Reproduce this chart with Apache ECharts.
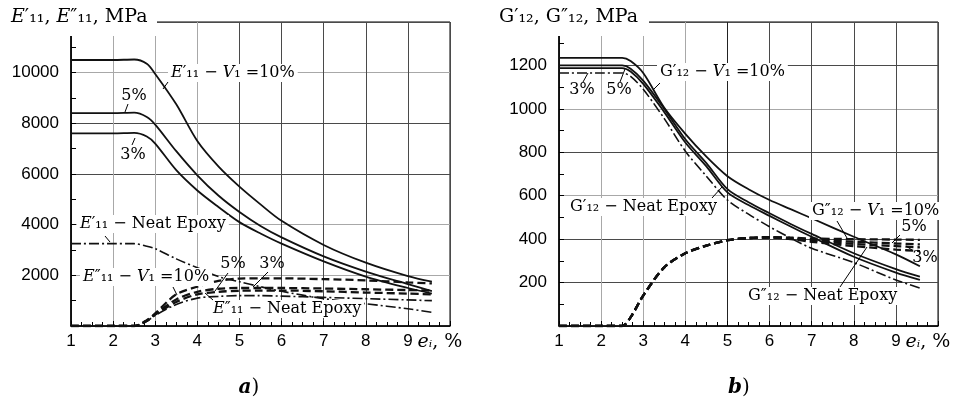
<!DOCTYPE html>
<html>
<head>
<meta charset="utf-8">
<script src="https://cdn.jsdelivr.net/npm/echarts@6.0.0/dist/echarts.min.js"></script>
<style>
  html, body { margin: 0; background: #fff; }
  #chart { width: 959px; height: 400px; }
</style>
</head>
<body>
<div id="chart"></div>
<script>
// --- data (strain e_i in %, moduli in MPa) ---
const strainA = [1, 2, 2.5, 2.8, 3, 3.5, 4, 4.5, 5, 5.5, 6, 7, 8, 9, 9.57];
const eStore10 = [10500, 10500, 10520, 10350, 9950, 8750, 7300, 6300, 5500, 4800, 4150, 3200, 2500, 1970, 1750];
const eStore5  = [8400, 8400, 8420, 8250, 7950, 6900, 5950, 5150, 4500, 3950, 3500, 2750, 2150, 1650, 1380];
const eStore3  = [7600, 7600, 7620, 7480, 7200, 6150, 5350, 4700, 4100, 3650, 3250, 2550, 1950, 1500, 1280];
const eStoreNeat = [3250, 3250, 3250, 3150, 3050, 2650, 2300, 1950, 1750, 1550, 1370, 1080, 880, 680, 540];
const eLoss10  = [0, 0, 0, 230, 500, 1250, 1550, 1780, 1870, 1880, 1880, 1850, 1800, 1720, 1680];
const eLoss5   = [0, 0, 0, 210, 470, 1050, 1350, 1470, 1500, 1500, 1500, 1480, 1450, 1420, 1400];
const eLoss3   = [0, 0, 0, 200, 450, 950, 1250, 1350, 1390, 1400, 1400, 1370, 1320, 1280, 1250];
const eLossNeat = [0, 0, 0, 190, 420, 850, 1100, 1170, 1200, 1200, 1180, 1130, 1080, 1030, 1000];

const strainB = [1, 2, 2.5, 2.7, 3, 3.5, 4, 4.5, 5, 5.5, 6, 6.5, 7, 8, 9, 9.57];
const gStore10 = [1235, 1235, 1235, 1220, 1165, 1005, 885, 780, 690, 630, 580, 538, 496, 411, 330, 275];
const gStore5  = [1200, 1200, 1200, 1185, 1130, 1000, 860, 750, 630, 570, 519, 470, 424, 335, 262, 227];
const gStore3  = [1188, 1188, 1188, 1172, 1115, 985, 845, 735, 615, 557, 507, 458, 411, 319, 246, 212];
const gStoreNeat = [1165, 1165, 1165, 1150, 1090, 955, 805, 690, 580, 515, 457, 405, 358, 292, 212, 175];
const gLoss10  = [0, 0, 0, 40, 140, 270, 335, 370, 395, 405, 408, 407, 403, 400, 398, 397];
const gLoss5   = [0, 0, 0, 40, 140, 270, 335, 370, 395, 405, 408, 405, 398, 388, 380, 376];
const gLoss3   = [0, 0, 0, 40, 140, 270, 335, 370, 395, 405, 408, 403, 394, 378, 368, 362];
const gLossNeat = [0, 0, 0, 40, 140, 270, 335, 370, 395, 405, 408, 400, 388, 368, 352, 345];

const SERIF = '"DejaVu Serif", serif';
const SANS = '"Liberation Sans", Arial, sans-serif';
const LIGHT = '#a8a8a8', DARK = '#4a4a4a';

const SOLID = { type: 'solid', width: 1.8 };
const DASH = { type: [8, 4], width: 2.3 };
const DASHDOT = { type: [10, 3, 2, 3], width: 1.6 };

function curve(name, xs, ys, idx, ls) {
  return {
    name, type: 'line', xAxisIndex: idx, yAxisIndex: idx,
    data: xs.map((x, i) => [x, ys[i]]),
    smooth: 0.3, symbol: 'none', silent: true,
    lineStyle: Object.assign({ color: '#111' }, ls), z: 3,
  };
}

function xAxis(idx, splitColors) {
  return {
    type: 'value', gridIndex: idx, min: 1, max: 10, interval: 1,
    axisLine: { lineStyle: { color: '#000', width: 1.6 } },
    axisTick: { inside: true, length: 5, lineStyle: { color: '#000' } },
    minorTick: { show: true, splitNumber: 4, length: 4, lineStyle: { color: '#000' } },
    splitLine: { show: true, lineStyle: { color: splitColors, width: 1 } },
    axisLabel: {
      color: '#000', fontFamily: SANS, fontSize: 17, margin: 7,
      formatter: (v) => (v === 10 ? '{e|e}{s|ᵢ}{n|, %}' : String(v)),
      rich: {
        e: { fontFamily: SERIF, fontStyle: 'italic', fontSize: 19, color: '#000' },
        s: { fontFamily: SERIF, fontStyle: 'italic', fontSize: 17, color: '#000' },
        n: { fontFamily: SERIF, fontSize: 19, color: '#000', padding: [0, 20, 0, 0] },
      },
    },
  };
}

function yAxis(idx, max, step, splitColors) {
  return {
    type: 'value', gridIndex: idx, min: 0, max, interval: step,
    axisLine: { show: true, lineStyle: { color: '#000', width: 1.6 } },
    axisTick: { show: true, inside: true, length: 5, lineStyle: { color: '#000' } },
    minorTick: { show: true, splitNumber: 2, length: 5, lineStyle: { color: '#000' } },
    splitLine: { show: true, lineStyle: { color: splitColors, width: 1 } },
    axisLabel: {
      color: '#000', fontFamily: SANS, fontSize: 17, margin: 12,
      showMinLabel: false, showMaxLabel: false, formatter: (v) => String(v),
    },
  };
}

const rich = {
  i: { fontFamily: SERIF, fontStyle: 'italic', fontSize: 16, fill: '#000' },
  t: { fontFamily: SERIF, fontStyle: 'italic', fontSize: 19, fill: '#000' },
  b: { fontFamily: SERIF, fontStyle: 'italic', fontWeight: 'bold', fontSize: 20, fill: '#000' },
};

function note(text, x, y, align, bg) {
  return {
    type: 'text', x, y, z: 100, silent: true,
    style: {
      text, rich, fill: '#000', font: '16px ' + SERIF,
      align, textAlign: align, verticalAlign: 'middle', textVerticalAlign: 'middle',
      backgroundColor: bg ? '#fff' : null, padding: bg ? [1, 3] : 0,
    },
  };
}
function lead(x1, y1, x2, y2) {
  return { type: 'line', z: 100, silent: true, shape: { x1, y1, x2, y2 }, style: { stroke: '#000', lineWidth: 1 } };
}

const graphic = [
  // panel titles cover the frame corner
  { type: 'rect', z: 90, silent: true, shape: { x: 0, y: 0, width: 157, height: 36 }, style: { fill: '#fff' } },
  { type: 'rect', z: 90, silent: true, shape: { x: 486, y: 0, width: 163, height: 36 }, style: { fill: '#fff' } },
  { type: 'text', z: 100, x: 11, y: 17, style: { text: '{t|E}′₁₁, {t|E}″₁₁, MPa', rich, font: '19px ' + SERIF, fill: '#000', verticalAlign: 'middle', textVerticalAlign: 'middle' } },
  { type: 'text', z: 100, x: 499, y: 17, style: { text: 'G′₁₂, G″₁₂, MPa', rich, font: '19px ' + SERIF, fill: '#000', verticalAlign: 'middle', textVerticalAlign: 'middle' } },
  // panel a
  note('{i|E}′₁₁ − {i|V}₁ =10%', 168, 73, 'left', true),
  note('5%', 134, 96, 'center', false),
  note('3%', 133, 155, 'center', false),
  note('{i|E}′₁₁ − Neat Epoxy', 77, 224, 'left', true),
  note('{i|E}″₁₁ − {i|V}₁ =10%', 80, 277, 'left', true),
  note('5%', 233, 264, 'center', false),
  note('3%', 272, 264, 'center', false),
  note('{i|E}″₁₁ − Neat Epoxy', 210, 309, 'left', true),
  lead(168, 82, 163, 89), lead(128, 104, 125, 112), lead(135, 138, 132, 145),
  lead(105, 236, 110, 242), lead(173, 287, 177, 295), lead(228, 273, 215, 291),
  lead(268, 272, 253, 287), lead(213, 300, 205, 293),
  // panel b
  note('G′₁₂ − {i|V}₁ =10%', 657, 72, 'left', true),
  note('3%', 582, 90, 'center', false),
  note('5%', 619, 90, 'center', false),
  note('G′₁₂ − Neat Epoxy', 567, 207, 'left', true),
  note('G″₁₂ − {i|V}₁ =10%', 809, 211, 'left', true),
  note('5%', 914, 227, 'center', false),
  note('3%', 925, 258, 'center', false),
  note('G″₁₂ − Neat Epoxy', 745, 296, 'left', true),
  lead(660, 83, 653, 90), lead(583, 82, 588, 73), lead(620, 82, 625, 69),
  lead(712, 198, 722, 187), lead(837, 221, 847, 238), lead(900, 235, 892, 243),
  lead(912, 250, 906, 246), lead(840, 287, 867, 247),
  // sub-figure letters
  { type: 'text', z: 100, x: 249, y: 388, style: { text: '{b|a})', rich, font: '20px ' + SERIF, fill: '#000', align: 'center', textAlign: 'center', verticalAlign: 'middle', textVerticalAlign: 'middle' } },
  { type: 'text', z: 100, x: 739, y: 388, style: { text: '{b|b})', rich, font: '20px ' + SERIF, fill: '#000', align: 'center', textAlign: 'center', verticalAlign: 'middle', textVerticalAlign: 'middle' } },
];

const option = {
  backgroundColor: '#fff',
  animation: false,
  grid: [
    { left: 71, top: 22, width: 379, height: 304, show: true, borderColor: '#000', borderWidth: 1 },
    { left: 559, top: 22, width: 379, height: 304, show: true, borderColor: '#000', borderWidth: 1 },
  ],
  xAxis: [
    xAxis(0, [DARK, LIGHT, LIGHT, LIGHT, DARK, DARK, DARK, DARK, DARK, DARK]),
    xAxis(1, [DARK, LIGHT, LIGHT, LIGHT, '#222', DARK, DARK, DARK, DARK, DARK]),
  ],
  yAxis: [
    yAxis(0, 12000, 2000, [DARK, LIGHT, LIGHT, DARK, DARK, LIGHT, DARK]),
    yAxis(1, 1400, 200, [DARK, DARK, DARK, LIGHT, DARK, LIGHT, DARK, DARK]),
  ],
  series: [
    curve("E'11 V1=10%", strainA, eStore10, 0, SOLID),
    curve("E'11 V1=5%", strainA, eStore5, 0, SOLID),
    curve("E'11 V1=3%", strainA, eStore3, 0, SOLID),
    curve("E'11 Neat Epoxy", strainA, eStoreNeat, 0, DASHDOT),
    curve("E''11 V1=10%", strainA, eLoss10, 0, DASH),
    curve("E''11 V1=5%", strainA, eLoss5, 0, DASH),
    curve("E''11 V1=3%", strainA, eLoss3, 0, DASH),
    curve("E''11 Neat Epoxy", strainA, eLossNeat, 0, DASHDOT),
    curve("G'12 V1=10%", strainB, gStore10, 1, SOLID),
    curve("G'12 V1=5%", strainB, gStore5, 1, SOLID),
    curve("G'12 V1=3%", strainB, gStore3, 1, SOLID),
    curve("G'12 Neat Epoxy", strainB, gStoreNeat, 1, DASHDOT),
    curve("G''12 V1=10%", strainB, gLoss10, 1, DASH),
    curve("G''12 V1=5%", strainB, gLoss5, 1, DASH),
    curve("G''12 V1=3%", strainB, gLoss3, 1, DASH),
    curve("G''12 Neat Epoxy", strainB, gLossNeat, 1, DASH),
  ],
  graphic,
};

const chart = echarts.init(document.getElementById('chart'), null, { renderer: 'canvas' });
chart.setOption(option);
</script>
</body>
</html>
